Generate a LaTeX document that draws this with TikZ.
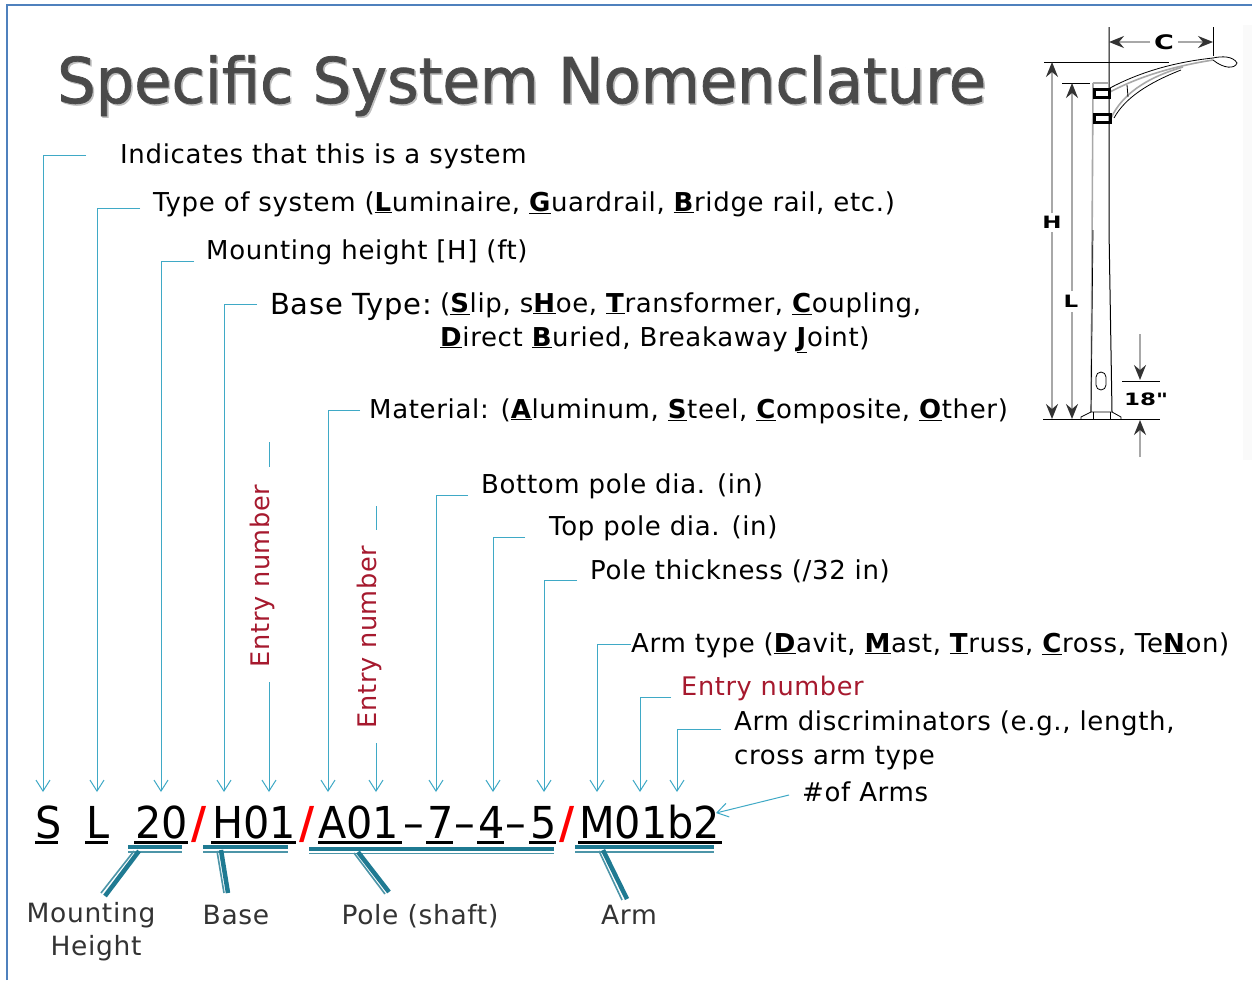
\documentclass[tikz,border=0pt]{standalone}
\usepackage{fontspec}
\setmainfont{DejaVu Sans}[LetterSpace=2.5]
\newfontfamily\titlefont{DejaVu Sans}[FakeStretch=0.963,FakeBold=1.2]
\newfontfamily\codefont{DejaVu Sans}[FakeStretch=0.94]
\newfontfamily\polefont{DejaVu Sans}[FakeStretch=1.35]
\usepackage{xcolor}
\usetikzlibrary{arrows.meta}
\definecolor{frame}{HTML}{4F81BD}
\definecolor{titlegray}{HTML}{4A4A4A}
\definecolor{leadcyan}{HTML}{3FA9C6}
\definecolor{teal}{HTML}{1F7A92}
\definecolor{entryred}{HTML}{A6192E}
\definecolor{dimgray}{HTML}{A8A8A8}
\newcommand{\kw}[1]{\underline{\textbf{#1}}}
\newcommand{\fsize}[1]{\fontsize{#1}{#1}\selectfont}
\tikzset{
  leader/.style={draw=leadcyan, line width=1pt, -{Straight Barb[length=11pt,width=14pt]}},
  leadstub/.style={draw=leadcyan, line width=1pt},
  lbl/.style={anchor=base west, inner sep=0pt, text=black, font=\fsize{26}},
  entry/.style={inner sep=0pt, text=entryred, font=\fsize{25.6}},
  part/.style={anchor=base, inner sep=0pt, text=black!80, font=\fsize{26.5}},
  code/.style={anchor=base west, inner sep=0pt, text=black, font=\codefont\fsize{44}},
  slash/.style={code, text=red, font=\codefont\fsize{44}\bfseries},
  uline/.style={draw=black, line width=3pt},
  tbar/.style={draw=teal, line width=4.5pt},
  tthin/.style={draw=teal!80, line width=1.6pt},
  dimline/.style={draw=dimgray, line width=1.6pt},
  dimtip/.style={-{Stealth[length=15pt,width=12pt,inset=5pt,color=black!80]}},
  ink/.style={draw=black, line width=1pt},
  polelbl/.style={inner sep=0pt, text=black, font=\polefont\fsize{17}\bfseries}
}
\begin{document}
\begin{tikzpicture}[x=1pt,y=-1pt]
  \useasboundingbox (0,0) rectangle (1252,980);
  \fill[white] (0,0) rectangle (1252,980);
  \draw[frame, line width=2pt] (7,980) -- (7,5) -- (1252,5);

  % title
  \node[anchor=base west, inner sep=0pt, text=black!25, font=\titlefont\fsize{63}] (titleshade) at (58.5,104.5) {Specific System Nomenclature};
  \node[anchor=base west, inner sep=0pt, text=titlegray, font=\titlefont\fsize{63}] (title) at (57,103) {Specific System Nomenclature};

  % description labels
  \node[lbl] (sys) at (120,163) {Indicates that this is a system};
  \node[lbl] (type) at (153,211) {Type of system (\kw{L}uminaire, \kw{G}uardrail, \kw{B}ridge rail, etc.)};
  \node[lbl] (height) at (206,259) {Mounting height [H] (ft)};
  \node[lbl, font=\fsize{29}] (base) at (270,314) {Base Type:};
  \node[lbl] (baseA) at (440,312) {(\kw{S}lip, s\kw{H}oe, \kw{T}ransformer, \kw{C}oupling,};
  \node[lbl] (baseB) at (440,346) {\kw{D}irect \kw{B}uried, Breakaway \kw{J}oint)};
  \node[lbl] (mat) at (369,418) {Material: (\kw{A}luminum, \kw{S}teel, \kw{C}omposite, \kw{O}ther)};
  \node[lbl] (bot) at (481,493) {Bottom pole dia. (in)};
  \node[lbl] (top) at (549,535) {Top pole dia. (in)};
  \node[lbl] (thick) at (590,579) {Pole thickness (/32 in)};
  \node[lbl] (arm) at (631,652) {Arm type (\kw{D}avit, \kw{M}ast, \kw{T}russ, \kw{C}ross, Te\kw{N}on)};
  \node[lbl, text=entryred, font=\fsize{25.6}] (entryC) at (681,695) {Entry number};
  \node[lbl] (discA) at (734,730) {Arm discriminators (e.g., length,};
  \node[lbl] (discB) at (734,764) {cross arm type};
  \node[lbl] (narms) at (802,801) {\#of Arms};

  % rotated entries
  \node[entry, rotate=90] (entryA) at (262,576) {Entry number};
  \node[entry, rotate=90] (entryB) at (369,637) {Entry number};

  % code string
  \node[code] (cS) at (35,838) {S};
  \node[code] (cL) at (86,838) {L};
  \node[code] (c20) at (135,838) {20};
  \node[slash] (s1) at (191,838) {/};
  \node[code] (cH) at (212,838) {H01};
  \node[slash] (s2) at (299,838) {/};
  \node[code] (cA) at (318,838) {A01};
  \node[code] (d1) at (403,838) {–};
  \node[code] (c7) at (427,838) {7};
  \node[code] (d2) at (454,838) {–};
  \node[code] (c4) at (478,838) {4};
  \node[code] (d3) at (505,838) {–};
  \node[code] (c5) at (530,838) {5};
  \node[slash] (s3) at (559,838) {/};
  \node[code] (cM) at (579,838) {M01b2};

  \draw[uline] (35,842) -- (58,842);
  \draw[uline] (85,842) -- (108,842);
  \draw[uline] (134,842) -- (188,842);
  \draw[uline] (211,842) -- (296,842);
  \draw[uline] (318,842) -- (402,842);
  \draw[uline] (426,842) -- (453,842);
  \draw[uline] (477,842) -- (504,842);
  \draw[uline] (529,842) -- (556,842);
  \draw[uline] (578,842) -- (722,842);

  % leaders
  \coordinate (a1) at (86,155);   \coordinate (b1) at (43,792);
  \coordinate (a2) at (140,208);  \coordinate (b2) at (97,792);
  \coordinate (a3) at (194,261);  \coordinate (b3) at (161,792);
  \coordinate (a4) at (257,304);  \coordinate (b4) at (224,792);
  \coordinate (a5) at (360,410);  \coordinate (b5) at (328,792);
  \coordinate (a6) at (468,495);  \coordinate (b6) at (436,792);
  \coordinate (a7) at (525,537);  \coordinate (b7) at (493,792);
  \coordinate (a8) at (577,580);  \coordinate (b8) at (544,792);
  \coordinate (a9) at (631,644);  \coordinate (b9) at (597,792);
  \coordinate (a10) at (671,697); \coordinate (b10) at (640,792);
  \coordinate (a11) at (721,729); \coordinate (b11) at (677,792);
  \draw[leader] (a1) -| (b1);
  \draw[leader] (a2) -| (b2);
  \draw[leader] (a3) -| (b3);
  \draw[leader] (a4) -| (b4);
  \draw[leader] (a5) -| (b5);
  \draw[leader] (a6) -| (b6);
  \draw[leader] (a7) -| (b7);
  \draw[leader] (a8) -| (b8);
  \draw[leader] (a9) -| (b9);
  \draw[leader] (a10) -| (b10);
  \draw[leader] (a11) -| (b11);

  \coordinate (e1) at (269,682);  \coordinate (f1) at (269,792);
  \coordinate (e2) at (376,743);  \coordinate (f2) at (376,792);
  \coordinate (g1) at (269,442);  \coordinate (h1) at (269,467);
  \coordinate (g2) at (376,506);  \coordinate (h2) at (376,530);
  \draw[leader] (e1) -- (f1);
  \draw[leader] (e2) -- (f2);
  \draw[leadstub] (g1) -- (h1);
  \draw[leadstub] (g2) -- (h2);
  \coordinate (n1) at (789,795);  \coordinate (n2) at (716,813);
  \draw[leader] (n1) -- (n2);

  % part groups
  \draw[tbar] (128,847) -- (182,847);
  \draw[tthin] (128,852) -- (182,852);
  \draw[tbar] (203,847) -- (288,847);
  \draw[tthin] (203,852) -- (288,852);
  \draw[tbar] (309,849) -- (554,849);
  \draw[tthin] (309,853.5) -- (554,853.5);
  \draw[tbar] (575,847) -- (714,847);
  \draw[tthin] (575,852) -- (714,852);

  \draw[tbar] (139,851) -- (105,896);
  \draw[tthin] (134,851) -- (101,893);
  \draw[tbar] (221,850) -- (228,893);
  \draw[tthin] (217,851) -- (224,893);
  \draw[tbar] (358,852) -- (389,892);
  \draw[tthin] (354,853) -- (385,894);
  \draw[tbar] (603,850) -- (627,899);
  \draw[tthin] (599,851) -- (622,900);

  \node[part] (pM) at (91,922) {Mounting};
  \node[part] (pH) at (96,955) {Height};
  \node[part] (pB) at (236,924) {Base};
  \node[part] (pP) at (420,924) {Pole (shaft)};
  \node[part] (pA) at (629,924) {Arm};

  % pole sketch
  \fill[black!2] (1243,25) rectangle (1252,460);
  \draw[ink] (1109,27) -- (1109,230) -- (1112,412);
  \draw[dimline] (1093,83) -- (1091,412);
  \draw[ink, line width=.7pt] (1093,230) -- (1091,412);
  \draw[ink] (1213,27) -- (1213,56);
  \draw[ink] (1044,62) -- (1169,62);
  \draw[ink] (1062,83) -- (1090,83);
  \draw[dimline] (1093,83) -- (1109,83);
  \draw[ink] (1043,419) -- (1160,419);
  \draw[ink] (1122,381) -- (1160,381);

  % arm
  \draw[ink, line width=.8pt] (1110,88) .. controls (1140,72) and (1175,62) .. (1213,58);
  \draw[dimline] (1110,92) .. controls (1140,76) and (1175,66) .. (1213,60);
  \draw[dimline] (1111,118) .. controls (1122,95) and (1145,78) .. (1183,67);
  \draw[ink, line width=.8pt] (1114,118) .. controls (1125,98) and (1148,83) .. (1181,70);
  \draw[ink, line width=.8pt] (1127,85) -- (1128,97);
  \draw[ink, line width=.8pt] (1213,58) .. controls (1222,56) and (1233,56) .. (1237,63) .. controls (1235,69) and (1224,69) .. (1213,60);
  \draw[black, line width=3pt] (1094.5,89.5) rectangle (1109,97.5);
  \draw[black, line width=3pt] (1094.5,114.5) rectangle (1110,122.5);

  % base
  \draw[ink, line width=.8pt] (1081,419) -- (1081,417) -- (1091,412) -- (1112,412) -- (1121,417) -- (1121,419);
  \draw[ink, line width=.8pt] (1093,412) -- (1093,419);
  \draw[ink, line width=.8pt] (1110,412) -- (1110,419);
  \draw[ink, line width=.8pt, rounded corners=5pt] (1096,372) rectangle (1106,390);

  % dimensions
  \coordinate (hTop) at (1052,62);    \coordinate (hUp) at (1052,213);
  \coordinate (hDown) at (1052,232);  \coordinate (hBot) at (1052,419);
  \coordinate (lTop) at (1072,83);    \coordinate (lUp) at (1072,291);
  \coordinate (lDown) at (1072,312);  \coordinate (lBot) at (1072,419);
  \coordinate (cL1) at (1109,42);     \coordinate (cL2) at (1150,42);
  \coordinate (cR1) at (1213,42);     \coordinate (cR2) at (1178,42);
  \coordinate (mA) at (1140,334);     \coordinate (mB) at (1140,380);
  \coordinate (mC) at (1140,457);     \coordinate (mD) at (1140,420);
  \draw[dimline, dimtip] (hUp) -- (hTop);
  \draw[dimline, dimtip] (hDown) -- (hBot);
  \draw[dimline, dimtip] (lUp) -- (lTop);
  \draw[dimline, dimtip] (lDown) -- (lBot);
  \draw[dimline, dimtip] (cL2) -- (cL1);
  \draw[dimline, dimtip] (cR2) -- (cR1);
  \draw[dimline, dimtip] (mA) -- (mB);
  \draw[dimline, dimtip] (mC) -- (mD);

  \node[polelbl, font=\polefont\fsize{20}\bfseries] (lblC) at (1164,42) {C};
  \node[polelbl] (lblH) at (1052,222) {H};
  \node[polelbl] (lblL) at (1071,301) {L};
  \node[polelbl] (lbl18) at (1146,399) {18"};
\end{tikzpicture}
\end{document}
